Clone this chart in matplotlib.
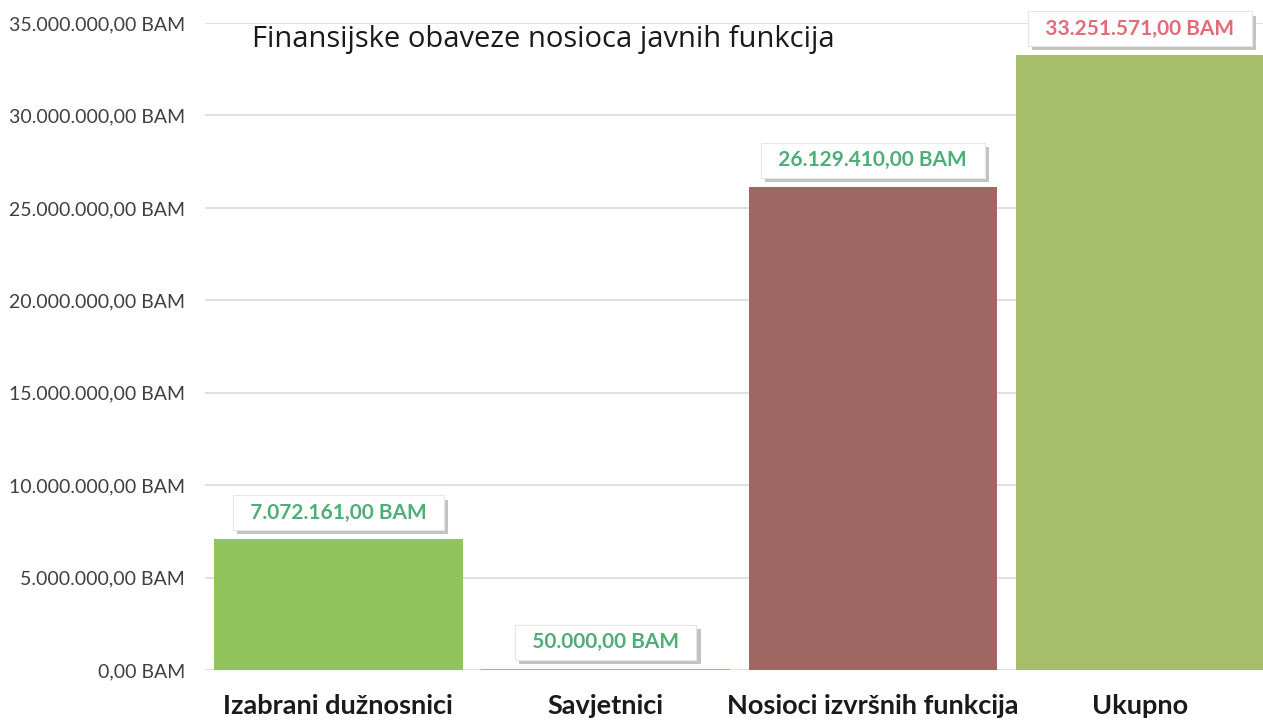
import matplotlib
matplotlib.use("Agg")
import matplotlib.pyplot as plt
import matplotlib.patheffects as pe
from matplotlib.ticker import FuncFormatter

categories = ['Izabrani dužnosnici', 'Savjetnici', 'Nosioci izvršnih funkcija', 'Ukupno']
values = [7072161.00, 50000.00, 26129410.00, 33251571.00]
bar_colors = ['#92C45E', '#92C45E', '#A06662', '#A6BE6A']
label_colors = ['#4FAE78', '#4FAE78', '#4FAE78', '#E36B79']
y_ticks = [0, 5e6, 10e6, 15e6, 20e6, 25e6, 30e6, 35e6]
title = 'Finansijske obaveze nosioca javnih funkcija'


def bam(v):
    # 1234567.5 -> 1.234.567,50 BAM
    s = '{:,.2f}'.format(v)
    s = s.replace(',', 'X').replace('.', ',').replace('X', '.')
    return s + ' BAM'


fig = plt.figure(figsize=(12.63, 7.2), dpi=100)
ax = fig.add_axes([0.162, 0.0694, 0.838, 0.8986])

x = list(range(len(categories)))
ax.bar(x, values, width=0.93, color=bar_colors, zorder=2)

ax.set_xlim(-0.5, 3.46)
ax.set_ylim(0, 35e6)
ax.set_yticks(y_ticks)
ax.yaxis.set_major_formatter(FuncFormatter(lambda v, p: bam(v)))
ax.grid(axis='y', color='#DADADA', linewidth=1.2, zorder=0)
for s in ax.spines.values():
    s.set_visible(False)
ax.tick_params(axis='y', length=0, pad=14, labelsize=14, labelcolor='#404040')
ax.tick_params(axis='x', length=0, pad=17, labelsize=19.5, labelcolor='#1A1A1A')
for t in ax.get_yticklabels():
    t.set_fontfamily('Lato')
ax.set_xticks(x)
ax.set_xticklabels(categories, fontfamily='Lato', fontweight='bold')

# value labels in white boxes with a small shadow
for i, v in enumerate(values):
    t = ax.annotate('  ' + bam(v) + '  ', (i, v), xytext=(0, 12), textcoords='offset points',
                    ha='center', va='bottom', fontsize=15, fontfamily='Lato',
                    fontweight='bold', color=label_colors[i], zorder=4,
                    bbox=dict(boxstyle='square,pad=0.35', fc='white', ec='#E6E6E6', lw=0.8))
    t.get_bbox_patch().set_path_effects([
        pe.SimplePatchShadow(offset=(3, -3), shadow_rgbFace='#B5B5B5', alpha=0.8),
        pe.Normal()])

fig.text(0.43, 0.945, title, ha='center', va='center', fontsize=21,
         fontfamily='Open Sans', color='#1A1A1A')

fig.savefig('out.png', dpi=100)
